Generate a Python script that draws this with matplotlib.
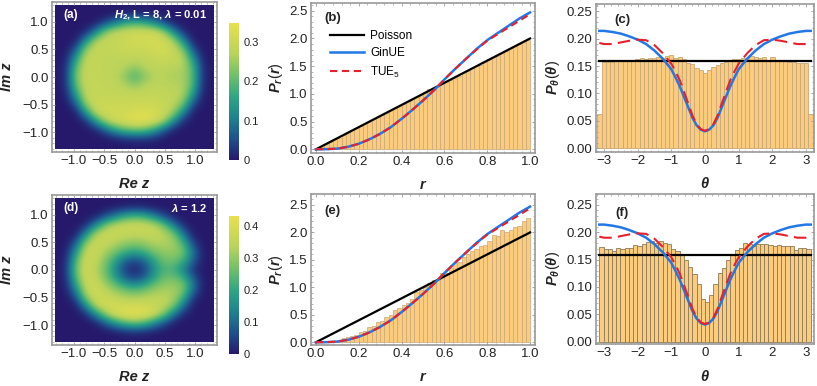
import numpy as np
import matplotlib
matplotlib.use('Agg')
import matplotlib.pyplot as plt
from matplotlib.colors import LinearSegmentedColormap
from matplotlib.patches import Rectangle
from matplotlib.ticker import MultipleLocator, AutoMinorLocator

plt.rcParams['font.family'] = ['Liberation Sans', 'DejaVu Sans']
plt.rcParams['mathtext.fontset'] = 'custom'
plt.rcParams['mathtext.rm'] = 'Liberation Sans'
plt.rcParams['mathtext.it'] = 'Liberation Sans:italic'
plt.rcParams['mathtext.bf'] = 'Liberation Sans:bold'
plt.rcParams['mathtext.bfit'] = 'Liberation Sans:italic:bold'

# density on the complex plane, rows from Im z = 1.28 down to -1.28 in steps of 0.16
density_a = [
    [0, 0, 0, 0, 0, 0, 0, 0, 0, 0, 0, 0, 0, 0, 0, 0, 0],
    [0, 0, 0, 0, 0, 0, .005, .012, .015, .012, .005, 0, 0, 0, 0, 0, 0],
    [0, 0, 0, 0, .004, .05, .11, .17, .19, .18, .13, .06, .006, 0, 0, 0, 0],
    [0, 0, 0, .015, .11, .24, .29, .30, .31, .31, .31, .26, .13, .02, 0, 0, 0],
    [0, 0, .006, .13, .27, .29, .29, .30, .31, .31, .32, .31, .27, .13, .006, 0, 0],
    [0, 0, .07, .25, .29, .29, .29, .30, .30, .30, .31, .32, .29, .24, .06, 0, 0],
    [0, .01, .15, .29, .29, .28, .28, .28, .28, .28, .29, .30, .29, .28, .14, .008, 0],
    [0, .02, .21, .29, .29, .28, .28, .27, .24, .27, .28, .28, .27, .27, .19, .02, 0],
    [0, .025, .23, .29, .29, .28, .28, .24, .18, .23, .27, .27, .26, .26, .20, .02, 0],
    [0, .02, .21, .29, .29, .29, .28, .27, .24, .27, .28, .28, .27, .27, .19, .015, 0],
    [0, .01, .15, .29, .29, .29, .29, .29, .29, .29, .29, .29, .28, .27, .14, .008, 0],
    [0, 0, .07, .26, .30, .30, .30, .30, .30, .30, .30, .29, .28, .23, .06, 0, 0],
    [0, 0, .006, .14, .29, .31, .31, .31, .32, .33, .32, .30, .26, .12, .005, 0, 0],
    [0, 0, 0, .02, .14, .26, .31, .32, .34, .34, .32, .27, .13, .02, 0, 0, 0],
    [0, 0, 0, 0, .008, .07, .15, .20, .22, .21, .16, .07, .006, 0, 0, 0, 0],
    [0, 0, 0, 0, 0, 0, .008, .02, .025, .025, .015, 0, 0, 0, 0, 0, 0],
    [0, 0, 0, 0, 0, 0, 0, 0, 0, 0, 0, 0, 0, 0, 0, 0, 0],
]
density_d = [
    [0, 0, 0, 0, 0, 0, 0, 0, 0, 0, 0, 0, 0, 0, 0, 0, 0],
    [0, 0, 0, 0, 0, 0, .006, .015, .02, .015, .006, 0, 0, 0, 0, 0, 0],
    [0, 0, 0, 0, .006, .06, .13, .20, .23, .21, .14, .06, .006, 0, 0, 0, 0],
    [0, 0, 0, .02, .14, .28, .35, .37, .38, .37, .35, .27, .13, .02, 0, 0, 0],
    [0, 0, .007, .15, .33, .37, .37, .36, .35, .36, .36, .34, .29, .12, .006, 0, 0],
    [0, 0, .08, .30, .37, .36, .33, .30, .29, .30, .33, .33, .32, .23, .05, 0, 0],
    [0, .01, .17, .36, .37, .32, .27, .22, .19, .22, .27, .30, .30, .28, .12, .005, 0],
    [0, .02, .24, .38, .35, .28, .19, .09, .05, .09, .19, .26, .27, .22, .09, .005, 0],
    [0, .03, .27, .38, .34, .26, .15, .04, .02, .04, .15, .23, .22, .14, .03, .001, 0],
    [0, .02, .24, .38, .35, .28, .19, .09, .05, .09, .19, .26, .27, .23, .09, .005, 0],
    [0, .01, .17, .36, .38, .33, .28, .23, .20, .23, .28, .31, .31, .29, .13, .005, 0],
    [0, 0, .08, .31, .38, .37, .34, .32, .31, .32, .34, .34, .33, .24, .05, 0, 0],
    [0, 0, .007, .16, .35, .39, .39, .38, .38, .38, .37, .35, .30, .12, .006, 0, 0],
    [0, 0, 0, .02, .15, .30, .39, .42, .43, .42, .38, .29, .13, .02, 0, 0, 0],
    [0, 0, 0, 0, .008, .08, .17, .24, .27, .24, .16, .07, .006, 0, 0, 0, 0],
    [0, 0, 0, 0, 0, 0, .008, .02, .03, .02, .008, 0, 0, 0, 0, 0, 0],
    [0, 0, 0, 0, 0, 0, 0, 0, 0, 0, 0, 0, 0, 0, 0, 0, 0],
]

hist_b = [.02, .06, .09, .13, .18, .21, .25, .30, .34, .38, .42, .46, .50, .54, .58, .62, .66,
          .70, .74, .78, .82, .86, .90, .94, .98, 1.03, 1.09, 1.09, 1.13, 1.17, 1.21, 1.25, 1.29,
          1.33, 1.38, 1.42, 1.46, 1.50, 1.53, 1.58, 1.63, 1.67, 1.68, 1.73, 1.77, 1.82, 1.86,
          1.90, 1.94, 1.98]
hist_e = [.00, .005, .01, .015, .03, .04, .07, .09, .11, .14, .19, .21, .27, .29, .37, .39, .46,
          .50, .58, .62, .68, .72, .78, .92, .95, 1.0, 1.08, 1.13, 1.13, 1.27, 1.27, 1.36, 1.44,
          1.47, 1.56, 1.60, 1.66, 1.70, 1.76, 1.78, 1.85, 1.96, 1.94, 2.05, 2.00, 2.05, 2.10,
          2.12, 2.21, 2.27]
hist_c = [.063, .158, .158, .158, .159, .159, .160, .160, .161, .162, .164, .163, .164, .164,
          .166, .164, .168, .170, .165, .166, .162, .156, .153, .147, .142,
          .137,
          .142, .148, .152, .155, .158, .161, .162, .162, .165, .163, .168, .167, .164, .166,
          .160, .167, .160, .160, .160, .158, .158, .155, .155, .155, .063]
hist_f = [.173, .169, .170, .166, .172, .170, .172, .172, .177, .175, .178, .182, .184, .180,
          .184, .180, .178, .170, .166, .161, .150, .137, .124, .105, .078,
          .073, .085, .105, .125, .135, .150, .160, .168, .172, .180, .178, .175, .178, .179,
          .178, .176, .175, .176, .174, .175, .175, .168, .171, .171, .169]

r_values = [0, .05, .1, .15, .2, .25, .3, .35, .4, .45, .5, .55, .6, .65, .7, .75, .8, .85, .9, .95, 1]
ginue_r = [0, .002, .012, .045, .10, .18, .28, .40, .55, .71, .88, 1.06, 1.26, 1.45, 1.63, 1.81,
           1.97, 2.10, 2.23, 2.36, 2.47]
tue_r = [0, .002, .012, .045, .10, .18, .28, .40, .55, .71, .88, 1.06, 1.26, 1.45, 1.63, 1.80,
         1.96, 2.08, 2.20, 2.32, 2.44]
poisson_r = [0, 2]

theta_half = [3.1416, 3, 2.75, 2.5, 2.25, 2, 1.75, 1.5, 1.25, 1, .875, .75, .625, .5, .375, .25, .125, 0]
ginue_theta = [.214, .214, .212, .209, .204, .198, .190, .178, .163, .144, .129, .113, .094, .075,
               .056, .042, .034, .031]
tue_theta = [.192, .190, .190, .193, .196, .198, .197, .188, .173, .154, .140, .124, .103, .082,
             .060, .044, .035, .032]
poisson_theta = [.159, .159]

heat_cmap = LinearSegmentedColormap.from_list(
    'heat', [(0, '#26196b'), (.15, '#1f4f8c'), (.3, '#1f7f8e'), (.46, '#2fa583'),
             (.62, '#72c06a'), (.78, '#b9d35c'), (1, '#e8e04e')])
bar_fc = '#fbcb7e'
blue = '#2178e6'
red = '#e8202c'
frame = '#9a9a9a'

W, H = 817, 386
fig = plt.figure(figsize=(W / 100, H / 100), dpi=100)


def px_axes(left, right, top, bottom):
    return fig.add_axes([left / W, 1 - bottom / H, (right - left) / W, (bottom - top) / H])


def style(ax, xstep, ystep):
    for s in ax.spines.values():
        s.set_color(frame)
        s.set_linewidth(1.2)
    ax.xaxis.set_major_locator(MultipleLocator(xstep))
    ax.yaxis.set_major_locator(MultipleLocator(ystep))
    ax.xaxis.set_minor_locator(AutoMinorLocator(5))
    ax.yaxis.set_minor_locator(AutoMinorLocator(5))
    ax.tick_params(which='major', direction='in', length=2.5, width=.6, color=frame,
                   top=True, right=True, labelsize=9.5, labelcolor='#222222', pad=2.5)
    ax.tick_params(which='minor', direction='in', length=1.3, width=.5, color=frame,
                   top=True, right=True)


def heat_panel(box, cbar_box, data, vmax, cticks, letter, title):
    ax = px_axes(*box)
    im = ax.imshow(data, extent=[-1.36, 1.36, -1.36, 1.36], cmap=heat_cmap, vmin=0, vmax=vmax,
                   interpolation='bicubic', aspect='auto')
    im.set_clip_path(Rectangle((-1.31, -1.31), 2.62, 2.62, transform=ax.transData))
    ax.set_xlim(-1.36, 1.36)
    ax.set_ylim(-1.36, 1.36)
    style(ax, .5, .5)
    ax.set_xticks([-1, -.5, 0, .5, 1])
    ax.set_xticklabels(['\u22121.0', '\u22120.5', '0.0', '0.5', '1.0'])
    ax.set_yticks([-1, -.5, 0, .5, 1])
    ax.set_yticklabels(['\u22121.0', '\u22120.5', '0.0', '0.5', '1.0'])
    ax.set_xlabel('Re z', fontsize=10.5, fontweight='bold', fontstyle='italic', color='#222222')
    ax.set_ylabel('Im z', fontsize=10.5, fontweight='bold', fontstyle='italic', color='#222222')
    ax.xaxis.set_label_coords(.5, -.165)
    ax.yaxis.set_label_coords(-.23, .5)
    ax.text(-1.17, 1.12, letter, color='white', fontsize=8.5, fontweight='bold', va='center')
    ax.text(1.2, 1.12, title, color='white', fontsize=8, fontweight='bold', va='center', ha='right')

    cax = px_axes(*cbar_box)
    cb = fig.colorbar(im, cax=cax)
    cb.set_ticks(cticks)
    cb.set_ticklabels(['0'] + ['%.1f' % t for t in cticks[1:]])
    cb.ax.tick_params(length=0, labelsize=8, labelcolor='#222222', pad=3)
    cb.outline.set_visible(False)


def radial_panel(box, hist, ylim, letter, letter_y):
    ax = px_axes(*box)
    edges = np.linspace(0, 1, len(hist) + 1)
    ax.bar(edges[:-1], hist, width=np.diff(edges), align='edge', color=bar_fc,
           edgecolor='#c9a877', linewidth=.5)
    ax.plot([0, 1], poisson_r, color='black', lw=1.6, label='Poisson')
    ax.plot(r_values, ginue_r, color=blue, lw=1.8, label='GinUE')
    ax.plot(r_values, tue_r, color=red, lw=1.5, ls=(0, (3.5, 2.2)), label='TUE$_5$')
    ax.set_xlim(-.023, 1.023)
    ax.set_ylim(*ylim)
    style(ax, .2, .5)
    ax.set_xlabel('r', fontsize=10.5, fontweight='bold', fontstyle='italic', color='#222222')
    ax.set_ylabel(r'$\mathbfit{P}_{\mathbfit{r}}(\mathbfit{r})$', fontsize=10.5, color='#222222')
    ax.xaxis.set_label_coords(.5, -.165)
    ax.yaxis.set_label_coords(-.116, .5)
    ax.text(.04, letter_y, letter, fontsize=9.5, fontweight='bold', va='center', color='#222222')
    return ax


def angle_panel(box, hist, edges, ylim, letter, letter_x, letter_y, edge_color):
    ax = px_axes(*box)
    ax.bar(edges[:-1], hist, width=np.diff(edges), align='edge', color=bar_fc,
           edgecolor=edge_color, linewidth=.6)
    half = np.array(theta_half)
    ax.plot([-np.pi, np.pi], poisson_theta, color='black', lw=1.6)
    ax.plot(np.r_[-half, half[::-1]], ginue_theta + ginue_theta[::-1], color=blue, lw=1.8)
    ax.plot(np.r_[-half, half[::-1]], tue_theta + tue_theta[::-1], color=red, lw=1.5,
            ls=(0, (6, 3)))
    ax.set_xlim(-3.24, 3.24)
    ax.set_ylim(*ylim)
    style(ax, 1, .05)
    ax.set_xticks([-3, -2, -1, 0, 1, 2, 3])
    ax.set_xticklabels(['\u22123', '\u22122', '\u22121', '0', '1', '2', '3'])
    ax.yaxis.set_major_formatter('{x:.2f}')
    ax.set_xlabel(r'$\mathbfit{\theta}$', fontsize=10.5, color='#222222')
    ax.set_ylabel(r'$\mathbfit{P}_{\mathbfit{\theta}}(\mathbfit{\theta})$', fontsize=10.5, color='#222222')
    ax.xaxis.set_label_coords(.5, -.165)
    ax.yaxis.set_label_coords(-.156, .5)
    ax.text(letter_x, letter_y, letter, fontsize=9.5, fontweight='bold', va='center', color='#222222')


heat_panel((52, 217, 2, 152), (229, 239, 23, 160), density_a, .349, [0, .1, .2, .3], '(a)',
           r'$\mathbfit{H}_{\mathbf{2}}$, L = 8, $\mathbfit{\lambda}$ = 0.01')
heat_panel((52, 217, 195, 345), (229, 239, 216, 354), density_d, .431, [0, .1, .2, .3, .4], '(d)',
           r'$\mathbfit{\lambda}$ = 1.2')

ax_b = radial_panel((311, 535, 3, 153), hist_b, (-.067, 2.64), '(b)', 2.37)
ax_b.legend(loc='upper left', bbox_to_anchor=(.085, .82), frameon=False, fontsize=8.5,
            handlelength=2.9, labelspacing=.45, handletextpad=.5, borderpad=0, borderaxespad=0)
radial_panel((311, 535, 194, 345), hist_e, (-.05, 2.70), '(e)', 2.39)

edges_c = np.linspace(-3.2, 3.2, len(hist_c) + 1)
edges_f = np.linspace(-np.pi, np.pi, len(hist_f) + 1)
angle_panel((596, 814, 4, 152), hist_c, edges_c, (-.0067, .263), '(c)', -2.7, .234, '#c9a877')
angle_panel((596, 814, 194, 344), hist_f, edges_f, (-.0045, .270), '(f)', -2.65, .236, '#8d7a58')

fig.savefig('out.png', dpi=100)
